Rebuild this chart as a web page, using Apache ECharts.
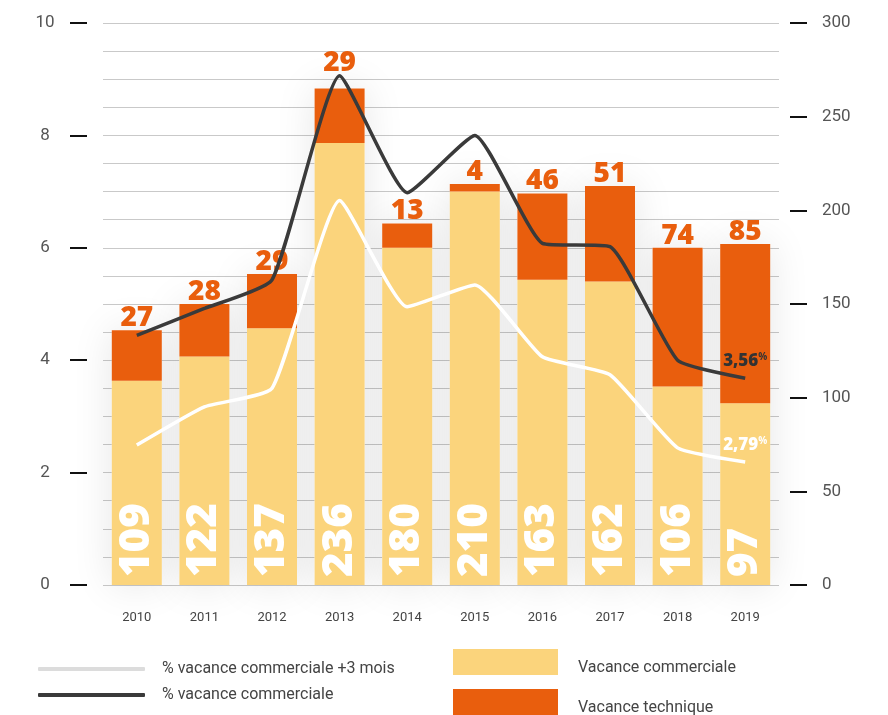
<!DOCTYPE html>
<html>
<head>
<meta charset="utf-8">
<script src="https://cdn.jsdelivr.net/npm/echarts@6/dist/echarts.min.js"></script>
<style>
  html, body { margin: 0; padding: 0; background: #fff; }
  #chart { width: 888px; height: 715px; }
</style>
</head>
<body>
<div id="chart"></div>
<script>
// données
var years = ['2010', '2011', '2012', '2013', '2014', '2015', '2016', '2017', '2018', '2019'];
var vacCommerciale = [109, 122, 137, 236, 180, 210, 163, 162, 106, 97];
var vacTechnique = [27, 28, 29, 29, 13, 4, 46, 51, 74, 85];
var pctCommerciale = [4.44, 4.92, 5.43, 9.06, 6.98, 8.0, 6.08, 6.02, 4.0, 3.68];
var pctCommerciale3m = [2.49, 3.17, 3.5, 6.84, 4.95, 5.34, 4.06, 3.74, 2.44, 2.19];
var endLabels = ['3,56', '2,79'];
var leftTicks = [0, 2, 4, 6, 8, 10];
var rightTicks = [0, 50, 100, 150, 200, 250, 300];

var totals = vacCommerciale.map(function(v, i) { return v + vacTechnique[i] });

// étiquette uniquement sur le dernier point
var lastLabel = function(arr, text, color) {
  return arr.map(function(v, i) {
    if (i !== arr.length - 1) return v
    return {
      value: v,
      label: {
        show: true,
        position: 'top',
        distance: 8,
        formatter: '{n|' + text + '}{p|%}',
        rich: {
          n: { fontFamily: 'Open Sans', fontWeight: 800, fontSize: 17, color: color },
          p: { fontFamily: 'Open Sans', fontWeight: 700, fontSize: 10, color: color, padding: [0, 0, 8, 0] }
        }
      }
    }
  })
}

// le label 2013 est remonté au-dessus de la courbe
var techData = vacTechnique.map(function(v, i) {
  if (i !== 3) return v
  return { value: v, label: { distance: 12 } }
})

var myChart = echarts.init(document.getElementById('chart'));

var option = {
  backgroundColor: '#fff',
  animation: false,
  grid: { left: 103, right: 109, top: 23, bottom: 130 },
  legend: [{
    orient: 'vertical',
    left: 38,
    top: 661,
    padding: 0,
    itemWidth: 107,
    itemHeight: 4,
    itemGap: 10,
    icon: 'roundRect',
    textStyle: { fontFamily: 'Roboto', fontSize: 16, color: '#444', padding: [0, 0, 5, 12] },
    data: [
      { name: '% vacance commerciale +3 mois', itemStyle: { color: '#dcdcdc', borderWidth: 0 } },
      { name: '% vacance commerciale', itemStyle: { color: '#3a3a3a', borderWidth: 0 } }
    ]
  }, {
    orient: 'vertical',
    left: 453,
    top: 649,
    padding: 0,
    height: 70,
    itemWidth: 105,
    itemHeight: 26,
    itemGap: 13,
    icon: 'rect',
    formatter: '{t|{name}}',
    textStyle: {
      rich: {
        t: { fontFamily: 'Roboto', fontSize: 16, color: '#444', padding: [12, 0, 0, 15] }
      }
    },
    data: [
      { name: 'Vacance commerciale', itemStyle: { borderWidth: 0 } },
      { name: 'Vacance technique', itemStyle: { borderWidth: 0 } }
    ]
  }],
  xAxis: {
    type: 'category',
    data: years,
    axisLine: { show: false },
    axisTick: { show: false },
    axisLabel: { margin: 26, fontFamily: 'Roboto', fontSize: 13, color: '#444' }
  },
  yAxis: [{
    type: 'value',
    min: leftTicks[0],
    max: leftTicks[leftTicks.length - 1],
    interval: 2,
    offset: 16,
    axisLine: { show: false },
    axisTick: { show: true, length: 17, lineStyle: { color: '#111', width: 2 } },
    axisLabel: { margin: 42, align: 'center', padding: [0, 0, 10, 0], fontFamily: 'Roboto', fontSize: 17, color: '#555' },
    splitLine: { show: true, lineStyle: { color: '#c9c9c9', width: 1 } },
    minorTick: { show: false, splitNumber: 4 },
    minorSplitLine: { show: true, lineStyle: { color: '#c9c9c9', width: 1 } }
  }, {
    type: 'value',
    min: rightTicks[0],
    max: rightTicks[rightTicks.length - 1],
    interval: 50,
    offset: 11,
    axisLine: { show: false },
    axisTick: { show: true, length: 17, lineStyle: { color: '#111', width: 2 } },
    axisLabel: { margin: 32, padding: [0, 0, 10, 0], fontFamily: 'Roboto', fontSize: 17, color: '#555' },
    splitLine: { show: false }
  }],
  series: [{
    name: 'ombre',
    type: 'bar',
    yAxisIndex: 1,
    data: totals,
    barWidth: 50,
    barGap: '-100%',
    silent: true,
    z: 1,
    itemStyle: { color: '#fff', shadowColor: 'rgba(0,0,0,0.1)', shadowBlur: 40 }
  }, {
    name: 'Vacance commerciale',
    type: 'bar',
    stack: 'vac',
    yAxisIndex: 1,
    data: vacCommerciale,
    barWidth: 50,
    barGap: '-100%',
    z: 2,
    itemStyle: { color: '#fbd47c' },
    label: {
      show: true,
      position: 'insideBottom',
      distance: 8,
      rotate: 90,
      align: 'left',
      verticalAlign: 'middle',
      fontFamily: 'Open Sans',
      fontWeight: 800,
      fontSize: 42,
      color: '#fff'
    }
  }, {
    name: 'Vacance technique',
    type: 'bar',
    stack: 'vac',
    yAxisIndex: 1,
    data: techData,
    barWidth: 50,
    barGap: '-100%',
    z: 2,
    itemStyle: { color: '#e95e0d' },
    label: {
      show: true,
      position: 'top',
      distance: -2,
      fontFamily: 'Open Sans',
      fontWeight: 800,
      fontSize: 28,
      color: '#e95e0d'
    }
  }, {
    name: '% vacance commerciale +3 mois',
    type: 'line',
    yAxisIndex: 0,
    data: lastLabel(pctCommerciale3m, endLabels[1], '#fff'),
    smooth: 0.15,
    symbol: 'circle',
    symbolSize: 0.1,
    z: 4,
    lineStyle: { color: '#fff', width: 3.5 },
    itemStyle: { color: '#fff' }
  }, {
    name: '% vacance commerciale',
    type: 'line',
    yAxisIndex: 0,
    data: lastLabel(pctCommerciale, endLabels[0], '#333'),
    smooth: 0.15,
    symbol: 'circle',
    symbolSize: 0.1,
    z: 5,
    lineStyle: { color: '#3a3a3a', width: 3.5 },
    itemStyle: { color: '#3a3a3a' }
  }]
};

myChart.setOption(option);
</script>
</body>
</html>
